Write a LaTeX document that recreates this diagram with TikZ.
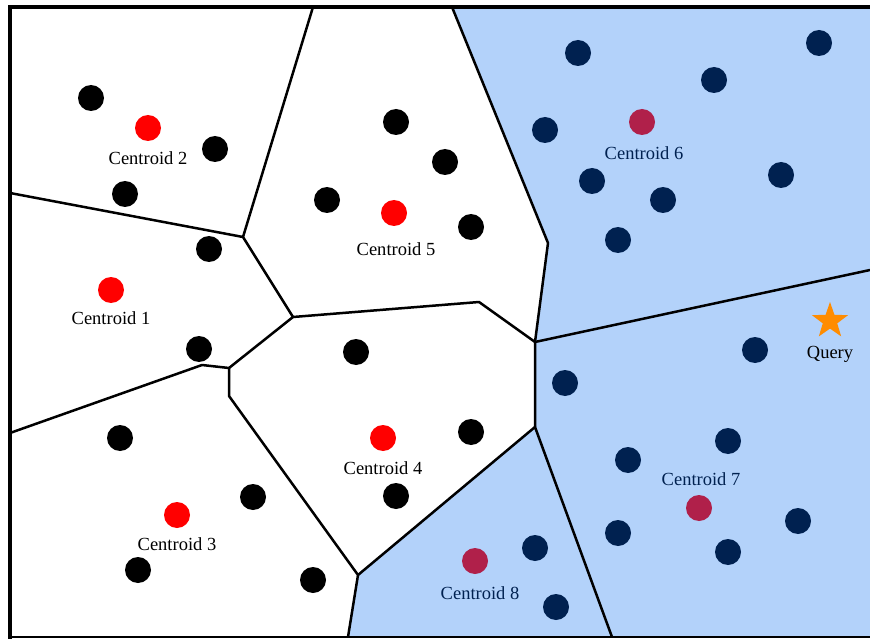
\documentclass[tikz,border=0pt]{standalone}
\usepackage{fontspec}
\setmainfont{Liberation Serif}
\usepackage{xcolor}
\usepackage{tikz}
\usetikzlibrary{shapes.geometric}
\definecolor{cellblue}{RGB}{179,210,250}
\definecolor{navy}{RGB}{0,33,80}
\definecolor{crimson}{RGB}{176,32,74}
\definecolor{qorange}{RGB}{255,140,0}
\tikzset{
  sample/.style={circle,fill=black,inner sep=0pt,minimum size=26pt},
  far/.style={sample,fill=navy},
  centre/.style={sample,fill=red},
  farcentre/.style={sample,fill=crimson},
  lab/.style={inner sep=0pt,font=\fontsize{18.5}{21}\selectfont},
  edge/.style={line width=2.5pt,line join=round}
}

\begin{document}
\begin{tikzpicture}[x=1pt,y=-1pt]
\useasboundingbox (0,0) rectangle (870,639);
% probed cells
\fill[cellblue] (452,7) -- (870,7) -- (870,637) -- (348,637) -- (358,575)
  -- (535,427) -- (535,342) -- (548,243) -- cycle;
% cell borders
\draw[edge] (313,7) -- (243,237);
\draw[edge] (10,193) -- (243,237) -- (293,317);
\draw[edge] (293,317) -- (479,302) -- (535,342);
\draw[edge] (293,317) -- (229,368) -- (202,365) -- (10,433);
\draw[edge] (229,368) -- (229,396) -- (358,575) -- (348,637);
\draw[edge] (358,575) -- (535,427) -- (612,637);
\draw[edge] (535,427) -- (535,342) -- (548,243) -- (452,7);
\draw[edge] (535,342) -- (870,270);
% frame
\draw[line width=4pt] (10,639) -- (10,7) -- (870,7);
\draw[line width=2.5pt] (8,637) -- (870,637);
% points
\foreach \x/\y [count=\i] in {91/98,215/149,125/194,209/249,199/349,
  396/122,445/162,327/200,471/227,356/352,471/432,396/496,
  120/438,253/497,138/570,313/580}
  \node[sample] (s\i) at (\x,\y) {};
\foreach \x/\y [count=\i] in {578/53,819/43,714/80,545/130,592/181,663/200,
  781/175,618/240,755/350,565/383,728/441,628/460,618/533,728/552,
  798/521,535/548,556/607}
  \node[far] (f\i) at (\x,\y) {};
% centroids
\node[centre] (c1) at (111,290) {};
\node[centre] (c2) at (148,128) {};
\node[centre] (c3) at (177,515) {};
\node[centre] (c4) at (383,438) {};
\node[centre] (c5) at (394,213) {};
\node[farcentre] (c6) at (642,122) {};
\node[farcentre] (c7) at (699,508) {};
\node[farcentre] (c8) at (475,561) {};
\node[lab] (l1) at (111,318) {Centroid 1};
\node[lab] (l2) at (148,158) {Centroid 2};
\node[lab] (l3) at (177,544) {Centroid 3};
\node[lab] (l4) at (383,468) {Centroid 4};
\node[lab] (l5) at (396,249) {Centroid 5};
\node[lab,text=navy] (l6) at (644,153) {Centroid 6};
\node[lab,text=navy] (l7) at (701,479) {Centroid 7};
\node[lab,text=navy] (l8) at (480,593) {Centroid 8};
% query
\node[star,star points=5,star point ratio=2.5,fill=qorange,inner sep=0pt,
  minimum size=38pt] (q) at (830,321) {};
\node[lab] (ql) at (830,354) {Query};
\end{tikzpicture}
\end{document}
